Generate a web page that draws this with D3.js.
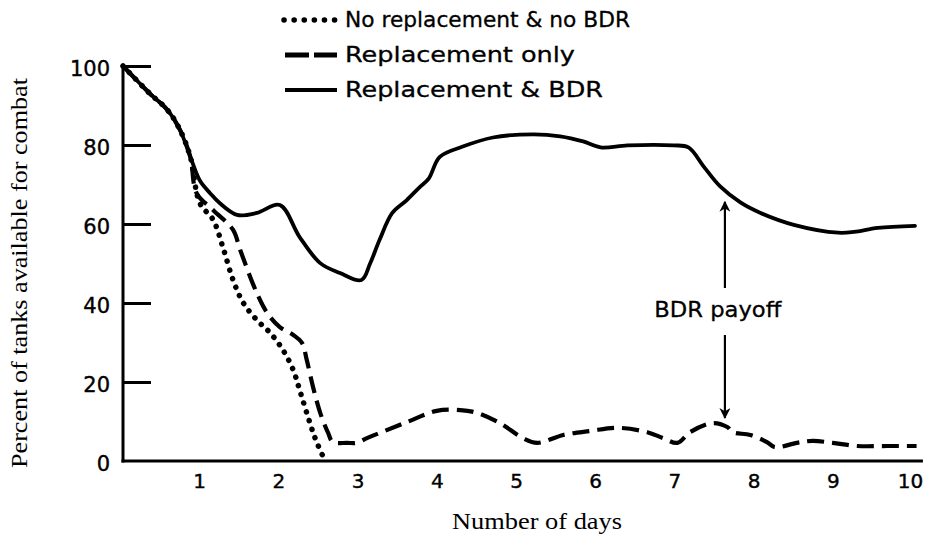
<!DOCTYPE html>
<html>
<head>
<meta charset="utf-8">
<script src="https://cdn.jsdelivr.net/npm/d3@7/dist/d3.min.js"></script>
<style>
  html, body { margin: 0; padding: 0; background: #fff; }
  svg { display: block; }
</style>
</head>
<body>
<svg id="chart" width="925" height="535"></svg>
<script>
// ---- DATA ----
const seriesNames = ["No replacement & no BDR", "Replacement only", "Replacement & BDR"];

const xTicks = [1, 2, 3, 4, 5, 6, 7, 8, 9, 10];
const yTicks = [0, 20, 40, 60, 80, 100];

// No replacement & no BDR (dotted)
const noReplDays   = [0, 0.34, 0.56, 0.72, 0.85, 0.97, 1.14, 1.26, 1.39, 1.52, 1.69, 1.86, 2.02, 2.15, 2.23, 2.32, 2.42, 2.53, 2.56];
const noReplValues = [100, 93, 88.9, 83.8, 77, 65.3, 61, 54.2, 45.8, 40, 35.7, 32.4, 28.1, 23, 18, 12.2, 6.1, 1, 0];

// Replacement only (dashed)
const replDays   = [0, 0.34, 0.56, 0.72, 0.85, 0.93, 1.14, 1.39, 1.48, 1.69, 1.82, 1.98, 2.15, 2.26, 2.32, 2.4, 2.49, 2.59, 2.65, 2.83, 2.95, 3.08, 3.24, 3.59, 3.96, 4.26, 4.47, 4.76, 5.05, 5.23, 5.56, 5.9, 6.24, 6.62, 6.82, 7.0, 7.16, 7.45, 7.63, 7.7, 7.92, 8.13, 8.23, 8.51, 8.71, 8.96, 9.27, 9.65, 10.02];
const replValues = [100, 93, 88.9, 83.8, 77, 67.8, 63.5, 58.5, 53.4, 42.5, 37.5, 33.9, 31.9, 29.9, 25.6, 18.7, 12.2, 7.1, 4.8, 4.6, 4.6, 5.8, 7.1, 9.9, 12.7, 12.9, 12.2, 9.6, 5.8, 4.6, 6.6, 7.6, 8.4, 7.3, 5.8, 4.6, 7.3, 9.6, 8.6, 7.3, 6.6, 4.8, 3.5, 4.6, 5.1, 4.6, 3.8, 3.8, 3.8];

// Replacement & BDR (solid)
const bdrDays   = [0, 0.34, 0.56, 0.72, 0.85, 0.97, 1.1, 1.22, 1.44, 1.69, 1.98, 2.23, 2.49, 2.74, 3.01, 3.12, 3.24, 3.4, 3.58, 3.75, 3.86, 4.0, 4.29, 4.67, 5.18, 5.52, 5.81, 6.03, 6.37, 6.95, 7.14, 7.33, 7.54, 7.8, 8.05, 8.47, 9.03, 9.23, 9.53, 10.0];
const bdrValues = [100, 93, 88.9, 83.8, 77, 71, 67.8, 65.3, 62.3, 62.8, 64.8, 56.7, 50.1, 47.6, 45.8, 50, 56, 62.8, 66, 69.4, 71.5, 77, 79.6, 81.9, 82.7, 82.2, 80.9, 79.4, 79.9, 79.9, 79.4, 74.6, 69.5, 65.4, 62.8, 59.8, 57.8, 58, 59, 59.5];

// Annotation: "BDR payoff" double arrow (day, value)
const payoffLabel = "BDR payoff";
const payoffDay = 7.6;
const payoffUpper = [43.8, 65.6];   // from, tip
const payoffLower = [31.9, 10.9];   // from, tip

const xTitle = "Number of days";
const yTitle = "Percent of tanks available for combat";

// ---- DRAW ----
const svg = d3.select("#chart");
const x = d3.scaleLinear().domain([0, 10]).range([123, 915]);
const y = d3.scaleLinear().domain([0, 100]).range([461, 66]);

const sansFont = "'DejaVu Sans', sans-serif";
const serifFont = "'Liberation Serif', 'Times New Roman', serif";

// Axes lines
svg.append("line")
  .attr("x1", x(0)).attr("x2", x(0))
  .attr("y1", y(0) + 1.5).attr("y2", y(100) - 1)
  .attr("stroke", "#000").attr("stroke-width", 3);
svg.append("line")
  .attr("x1", x(0) - 1.5).attr("x2", x(10.1))
  .attr("y1", y(0)).attr("y2", y(0))
  .attr("stroke", "#000").attr("stroke-width", 3);

// Y axis with inward ticks
const yAxis = d3.axisRight(y).tickValues(yTicks).tickSize(28).tickFormat("");
const yg = svg.append("g").attr("transform", `translate(${x(0)},0)`).call(yAxis);
yg.select(".domain").remove();
yg.selectAll(".tick line").attr("stroke", "#000").attr("stroke-width", 3)
  .filter(d => d === 0).remove();

// Y tick labels
svg.append("g").selectAll("text").data(yTicks).join("text")
  .attr("x", 110).attr("y", d => y(d) + 4)
  .attr("text-anchor", "end").attr("dominant-baseline", "middle")
  .attr("font-family", sansFont).attr("font-size", 21)
  .attr("stroke", "#000").attr("stroke-width", 0.4)
  .text(d => d);

// X tick labels
const xAxis = d3.axisBottom(x).tickValues(xTicks).tickSize(0).tickPadding(0).tickFormat(d => d);
const xg = svg.append("g").attr("transform", `translate(-3,${y(0) + 20})`).call(xAxis);
xg.select(".domain").remove();
xg.selectAll(".tick text")
  .attr("font-family", sansFont).attr("font-size", 20).attr("fill", "#000")
  .attr("stroke", "#000").attr("stroke-width", 0.4)
  .attr("dy", "0.35em").attr("y", 0);
xg.selectAll(".tick").filter(d => d === 10).select("text").attr("x", -2);

// Axis titles
svg.append("text")
  .attr("x", 537).attr("y", 529)
  .attr("text-anchor", "middle")
  .attr("font-family", serifFont).attr("font-size", 24)
  .attr("textLength", 170).attr("lengthAdjust", "spacingAndGlyphs")
  .text(xTitle);
svg.append("text")
  .attr("transform", "translate(27,273) rotate(-90)")
  .attr("text-anchor", "middle")
  .attr("font-family", serifFont).attr("font-size", 23)
  .attr("textLength", 390).attr("lengthAdjust", "spacingAndGlyphs")
  .text(yTitle);

// Lines
const line = d3.line().x(d => x(d[0])).y(d => y(d[1])).curve(d3.curveCatmullRom.alpha(0.5));
const zip = (a, b) => a.map((v, i) => [v, b[i]]);

svg.append("path").datum(zip(bdrDays, bdrValues))
  .attr("d", line).attr("fill", "none").attr("stroke", "#000")
  .attr("stroke-width", 3.8).attr("stroke-linejoin", "round").attr("stroke-linecap", "round");

svg.append("path").datum(zip(replDays, replValues))
  .attr("d", line).attr("fill", "none").attr("stroke", "#000")
  .attr("stroke-width", 4.2).attr("stroke-dasharray", "17,8").attr("stroke-linejoin", "round");

svg.append("path").datum(zip(noReplDays, noReplValues))
  .attr("d", line).attr("fill", "none").attr("stroke", "#000")
  .attr("stroke-width", 5.5).attr("stroke-dasharray", "0.1,9").attr("stroke-linecap", "round");

// Arrows
const defs = svg.append("defs");
defs.append("marker").attr("id", "arrow")
  .attr("viewBox", "0 0 10 10").attr("refX", 9).attr("refY", 5)
  .attr("markerWidth", 15).attr("markerHeight", 11)
  .attr("markerUnits", "userSpaceOnUse")
  .attr("orient", "auto")
  .append("path").attr("d", "M0,0 L10,5 L0,10 L3,5 Z").attr("fill", "#000");

[payoffUpper, payoffLower].forEach(seg => {
  svg.append("line")
    .attr("x1", x(payoffDay)).attr("x2", x(payoffDay))
    .attr("y1", y(seg[0])).attr("y2", y(seg[1]))
    .attr("stroke", "#000").attr("stroke-width", 2.2)
    .attr("marker-end", "url(#arrow)");
});

svg.append("text")
  .attr("x", x(7.51)).attr("y", y(36.4))
  .attr("text-anchor", "middle")
  .attr("font-family", sansFont).attr("font-size", 21)
  .attr("stroke", "#000").attr("stroke-width", 0.3)
  .attr("textLength", 127).attr("lengthAdjust", "spacingAndGlyphs")
  .text(payoffLabel);

// Legend
const legendDash = ["0.1,10", "24,5", null];
const legendWidth = [5.5, 5, 3.8];
const legendTextLen = [285, 230, 258];
const lg = svg.append("g");
seriesNames.forEach((name, i) => {
  const by = 27 + i * 35;
  const ln = lg.append("line")
    .attr("x1", i === 0 ? 284 : 285).attr("x2", 337)
    .attr("y1", by - 7).attr("y2", by - 7)
    .attr("stroke", "#000").attr("stroke-width", legendWidth[i]);
  if (legendDash[i]) ln.attr("stroke-dasharray", legendDash[i]);
  if (i === 0) ln.attr("stroke-linecap", "round");
  lg.append("text")
    .attr("x", 345).attr("y", by)
    .attr("font-family", sansFont).attr("font-size", 21)
    .attr("stroke", "#000").attr("stroke-width", 0.3)
    .attr("textLength", legendTextLen[i]).attr("lengthAdjust", "spacingAndGlyphs")
    .text(name);
});
</script>
</body>
</html>
